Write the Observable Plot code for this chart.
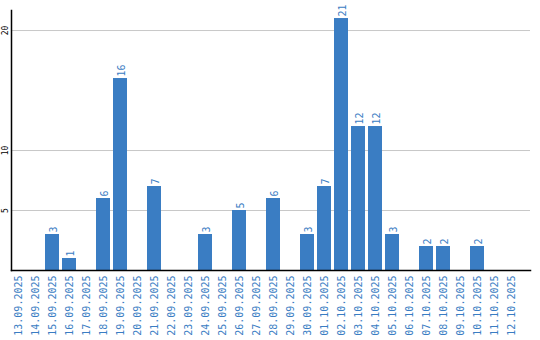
<!DOCTYPE html>
<html>
<head>
<meta charset="utf-8">
<script src="https://cdn.jsdelivr.net/npm/d3@7"></script>
<script src="https://cdn.jsdelivr.net/npm/@observablehq/plot@0.6"></script>
<style>
  html, body { margin: 0; padding: 0; background: #fff; }
  #chart { width: 540px; height: 340px; }
</style>
</head>
<body>
<div id="chart"></div>
<script>
const dates = ["13.09.2025","14.09.2025","15.09.2025","16.09.2025","17.09.2025","18.09.2025","19.09.2025","20.09.2025","21.09.2025","22.09.2025","23.09.2025","24.09.2025","25.09.2025","26.09.2025","27.09.2025","28.09.2025","29.09.2025","30.09.2025","01.10.2025","02.10.2025","03.10.2025","04.10.2025","05.10.2025","06.10.2025","07.10.2025","08.10.2025","09.10.2025","10.10.2025","11.10.2025","12.10.2025"];
const counts = [0,0,3,1,0,6,16,0,7,0,0,3,0,5,0,6,0,3,7,21,12,12,3,0,2,2,0,2,0,0];
const yTicks = [5, 10, 20];

const data = dates.map((d, i) => ({date: d, value: counts[i]}));
const nonZero = data.filter(d => d.value > 0);
const blue = "#3a7dc3";
const mono = "DejaVu Sans Mono, monospace";

const chart = Plot.plot({
  width: 540,
  height: 340,
  marginLeft: 11,
  marginRight: 10,
  marginTop: 10,
  marginBottom: 70,
  style: {fontFamily: mono, background: "#fff"},
  x: {domain: dates, range: [11, 518], paddingInner: 3/17, paddingOuter: 0, align: 0, label: null},
  y: {domain: [0, 21.67], label: null},
  marks: [
    Plot.gridY(yTicks, {stroke: "#c8c8c8", strokeOpacity: 1}),
    Plot.barY(nonZero, {x: "date", y: "value", fill: blue}),
    Plot.text(nonZero, {x: "date", y: "value", text: d => String(d.value), rotate: -90, textAnchor: "start", dy: -2, dx: 1, fill: blue, fontSize: 10, fontFamily: mono}),
    Plot.axisY(yTicks, {tickSize: 0, tickRotate: -90, tickPadding: 3.5, fontSize: 8, fill: "#000", fontFamily: mono, label: null}),
    Plot.axisX({tickSize: 0, tickRotate: -90, tickPadding: 5, fontSize: 10, fill: blue, fontFamily: mono, label: null}),
    Plot.frame({anchor: "left", stroke: "#000", strokeWidth: 1.5}),
    Plot.frame({anchor: "bottom", stroke: "#000", strokeWidth: 1.5})
  ]
});
document.getElementById("chart").appendChild(chart);
</script>
</body>
</html>
